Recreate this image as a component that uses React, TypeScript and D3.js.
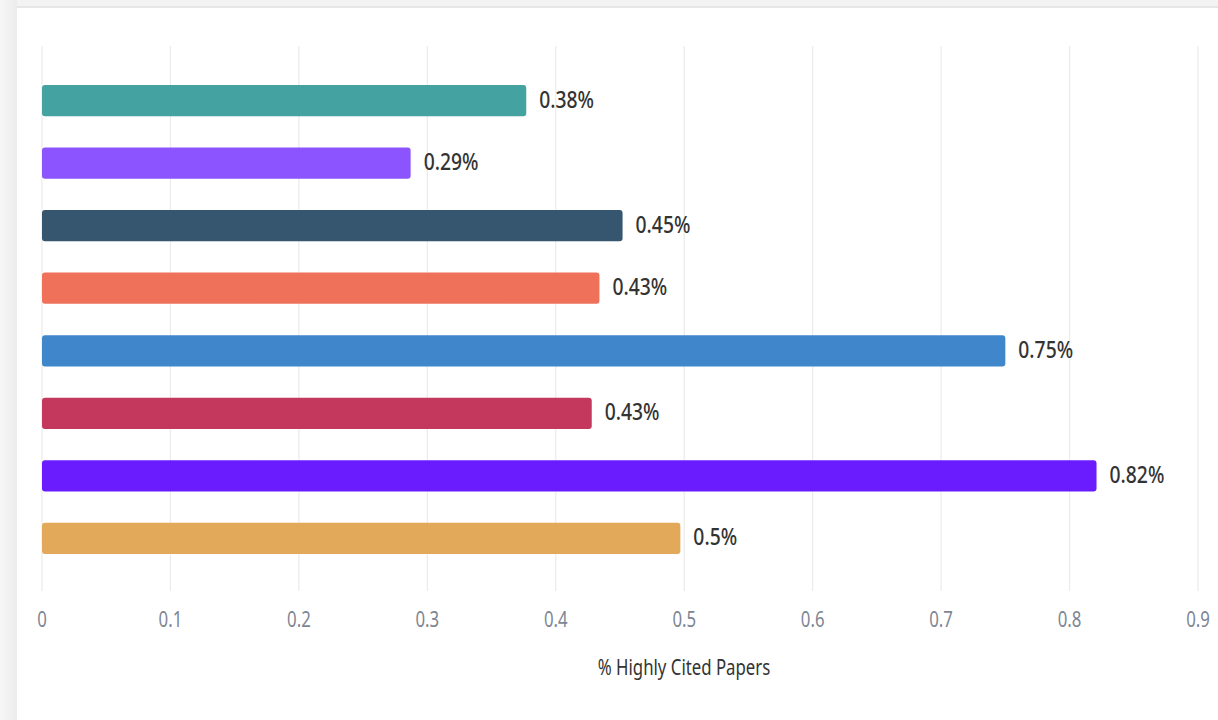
import React from 'react';
import * as d3 from 'd3';

// bar order top to bottom
const categories = ['A', 'B', 'C', 'D', 'E', 'F', 'G', 'H'];
const values = [0.377, 0.287, 0.452, 0.434, 0.75, 0.428, 0.821, 0.497];
const colors = ['#44a2a0', '#8c54ff', '#36556f', '#f0715a', '#3f86cb', '#c4385e', '#6a1cff', '#e2a95a'];
const xTicks = [0, 0.1, 0.2, 0.3, 0.4, 0.5, 0.6, 0.7, 0.8, 0.9];
const axisTitle = '% Highly Cited Papers';

const W = 1218;
const H = 720;
const FONT = '"Noto Sans", "Open Sans", sans-serif';
const SQUEEZE = 0.84;

const App: React.FC = () => {
  const x = d3.scaleLinear().domain([0, 0.9]).range([42, 1198]);
  const y = d3.scaleBand<string>().domain(categories).range([85, 554]).paddingInner(0.5).paddingOuter(0);
  const gridTop = 46;
  const gridBottom = 591;
  const fmt = (v: number) => `${+v.toFixed(2)}%`;

  return (
    <div style={{ position: 'fixed', left: 0, top: 0, width: W, height: H }}>
      <svg width={W} height={H} style={{ display: 'block' }}>
        <defs>
          <linearGradient id="shadow" x1="0" x2="1" y1="0" y2="0">
            <stop offset="0" stopColor="#f7f7f7" />
            <stop offset="1" stopColor="#ececec" />
          </linearGradient>
        </defs>
        {/* page background + card */}
        <rect x={0} y={0} width={W} height={H} fill="#f3f3f3" />
        <rect x={0} y={0} width={17} height={H} fill="url(#shadow)" />
        <rect x={17} y={6} width={W - 17} height={2} fill="#e6e6e6" />
        <rect x={17} y={8} width={W - 17} height={H - 8} fill="#ffffff" />

        {/* grid */}
        {xTicks.map((t) => (
          <line
            key={`g${t}`}
            x1={x(t)}
            x2={x(t)}
            y1={gridTop}
            y2={gridBottom}
            stroke="#ebebeb"
            strokeWidth={1.2}
          />
        ))}

        {/* bars */}
        {categories.map((c, i) => (
          <rect
            key={c}
            x={x(0)}
            y={y(c)}
            width={x(values[i]) - x(0)}
            height={y.bandwidth()}
            rx={3}
            fill={colors[i]}
          />
        ))}

        {/* value labels */}
        {categories.map((c, i) => (
          <text
            key={`l${c}`}
            transform={`translate(${x(values[i]) + 13},${(y(c) ?? 0) + y.bandwidth() / 2 - 1}) scale(${SQUEEZE},1)`}
            dy="0.35em"
            fontFamily={FONT}
            fontSize={23}
            fontWeight={500}
            fill="#333333"
          >
            {fmt(values[i])}
          </text>
        ))}

        {/* tick labels */}
        {xTicks.map((t) => (
          <text
            key={`t${t}`}
            transform={`translate(${x(t)},620) scale(0.8,1)`}
            dy="0.35em"
            textAnchor="middle"
            fontFamily={FONT}
            fontSize={21}
            fill="#7e8694"
          >
            {String(t)}
          </text>
        ))}

        {/* axis title */}
        <text
          transform={`translate(${(x(0) + x(0.9)) / 2 + 64},668) scale(0.8,1)`}
          dy="0.35em"
          textAnchor="middle"
          fontFamily={FONT}
          fontSize={21}
          fill="#333333"
        >
          {axisTitle}
        </text>
      </svg>
    </div>
  );
};

export default App;
